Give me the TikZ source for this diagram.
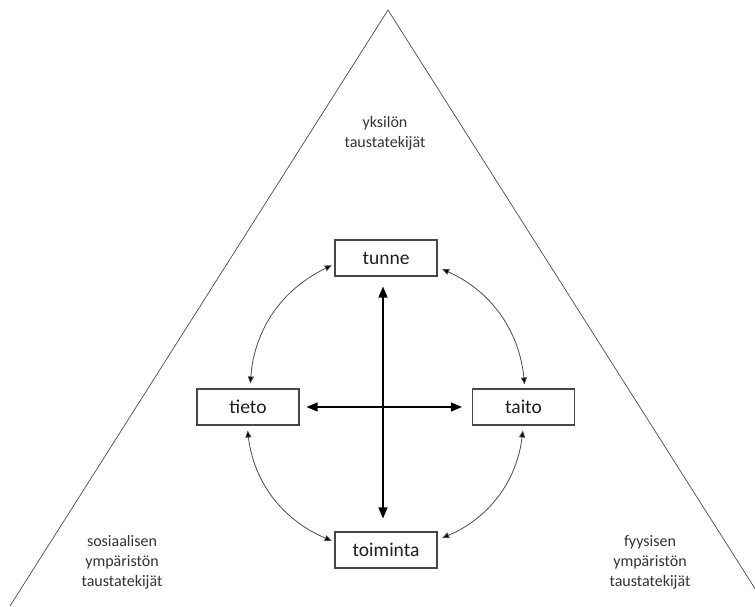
\documentclass[tikz,border=0pt]{standalone}
\usepackage{fontspec}
\setmainfont{Carlito}
\usetikzlibrary{arrows.meta}
\begin{document}
\begin{tikzpicture}[x=1pt,y=-1pt,
  box/.style={draw=black!72, line width=1.1pt, fill=white, minimum width=102pt,
    minimum height=36pt, inner sep=0pt, text=black!88,
    font=\fontsize{19.5}{22}\selectfont},
  factor/.style={align=center, text=black!80, inner sep=0pt,
    font=\fontsize{16}{20}\selectfont},
  edge/.style={draw=black!70, line width=0.7pt, fill=none},
  curvearrow/.style={black!70, line width=0.8pt,
    {Triangle[length=7pt,width=6pt,fill=black]}-{Triangle[length=7pt,width=6pt,fill=black]}},
  axisarrow/.style={black, line width=1.3pt,
    {Triangle[length=11pt,width=9pt]}-{Triangle[length=11pt,width=9pt]}}
]
\useasboundingbox (0,0) rectangle (755,606);
\fill[white] (0,0) rectangle (755,606);

% outer triangle, clipped at the page edge
\begin{scope}
  \clip (0,0) rectangle (755,606);
  \coordinate (apex) at (388,10);
  \coordinate (bl) at (10,606);
  \coordinate (br) at (766,606);
  \draw[edge] (bl) -- (apex) -- (br);
\end{scope}

% background factors
\node[factor] (yks) at (385,133) {yksilön\\taustatekijät};
\node[factor] (sos) at (122,562) {sosiaalisen\\ympäristön\\taustatekijät};
\node[factor] (fyy) at (650,562) {fyysisen\\ympäristön\\taustatekijät};

% the four elements
\node[box] (tunne) at (386,258) {tunne};
\node[box] (tieto) at (248,407) {tieto};
\node[box] (taito) at (523.5,407) {taito};
\node[box] (toiminta) at (386,550) {toiminta};

% cross in the middle
\draw[axisarrow, shorten <=10pt, shorten >=13pt]
  ([xshift=-3pt]tunne.south) -- ([xshift=-3pt]toiminta.north);
\draw[axisarrow, shorten <=7pt, shorten >=10pt]
  (tieto.east) -- (taito.west);

% ring of curved links
\draw[curvearrow, shorten <=5pt, shorten >=3pt]
  ([xshift=2pt]tieto.north) to[bend left=30] ([yshift=-6pt]tunne.west);
\draw[curvearrow, shorten <=5pt, shorten >=4pt]
  ([yshift=-9pt]tunne.east) to[bend left=30] ([xshift=1.5pt]taito.north);
\draw[curvearrow, shorten <=5pt, shorten >=5pt]
  (taito.south) to[bend left=30] ([yshift=10pt]toiminta.east);
\draw[curvearrow, shorten <=3pt, shorten >=5pt]
  ([yshift=8pt]toiminta.west) to[bend left=30] ([xshift=-1pt]tieto.south);
\end{tikzpicture}
\end{document}
